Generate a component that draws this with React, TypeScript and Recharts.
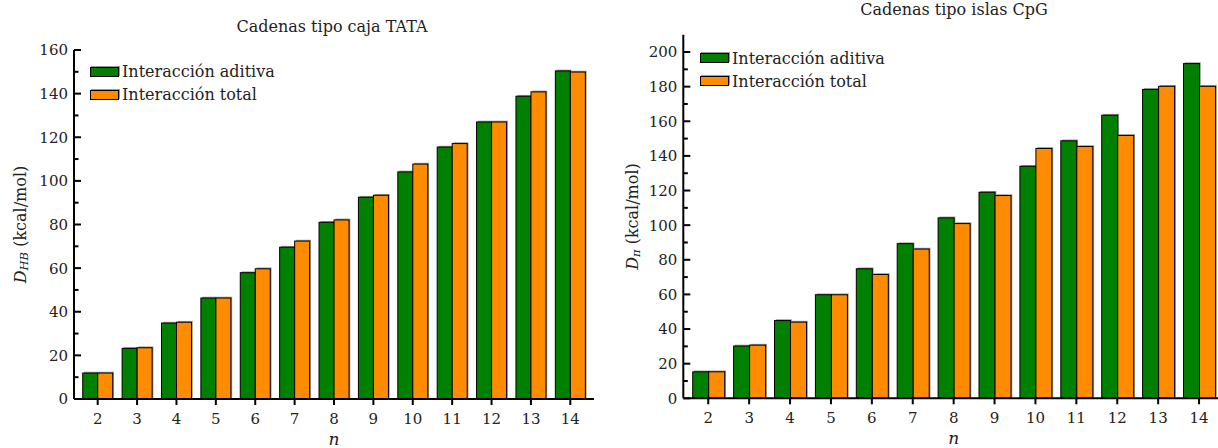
import React from 'react';
import { BarChart, Bar, XAxis, YAxis, Legend } from 'recharts';

// Chain length n
const categories = [2, 3, 4, 5, 6, 7, 8, 9, 10, 11, 12, 13, 14];

// TATA box chains, D_HB (kcal/mol)
const tataAditiva = [11.9, 23.2, 34.8, 46.3, 57.9, 69.6, 81.0, 92.5, 104.1, 115.5, 127.0, 138.8, 150.4];
const tataTotal = [11.9, 23.5, 35.2, 46.3, 59.7, 72.4, 82.1, 93.4, 107.7, 117.1, 127.0, 140.8, 149.9];

// CpG island chains, D_pi (kcal/mol)
const cpgAditiva = [15.3, 30.2, 44.9, 59.8, 74.8, 89.3, 104.2, 119.0, 134.0, 148.7, 163.5, 178.4, 193.3];
const cpgTotal = [15.3, 30.7, 44.0, 59.8, 71.5, 86.2, 100.9, 117.1, 144.3, 145.4, 151.8, 180.2, 180.2];

// Y tick values (majors are labelled, minors only get a short tick)
const tataTicks = [0, 10, 20, 30, 40, 50, 60, 70, 80, 90, 100, 110, 120, 130, 140, 150, 160];
const cpgTicks = [0, 10, 20, 30, 40, 50, 60, 70, 80, 90, 100, 110, 120, 130, 140, 150, 160, 170, 180, 190, 200];

const SERIES_ADITIVA = 'Interacción aditiva';
const SERIES_TOTAL = 'Interacción total';
const GREEN = '#008000';
const ORANGE = '#FF8C00';
const FONT = "'DejaVu Serif', serif";
const TEXT = '#222';

const tataData = categories.map((n, i) => ({ n, aditiva: tataAditiva[i], total: tataTotal[i] }));
const cpgData = categories.map((n, i) => ({ n, aditiva: cpgAditiva[i], total: cpgTotal[i] }));

const Y_TICK_MARGIN = 6;

// Bar with a thin grey drop shadow and black outline
const ShadowBar = (props: any) => {
  const { x, y, width, height, fill } = props;
  if (!height || height <= 0) return null;
  return (
    <g>
      <rect x={x + 1.3} y={y - 1.3} width={width} height={height} fill="#9a9a9a" />
      <rect x={x} y={y} width={width} height={height} fill={fill} stroke="#000" strokeWidth={1} />
    </g>
  );
};

// Y tick: label on the left, tick mark pointing into the plot
const makeYTick = (major: number) => (props: any) => {
  const { x, y, payload } = props;
  const axisX = x + Y_TICK_MARGIN;
  const isMajor = payload.value % major === 0;
  return (
    <g>
      <line x1={axisX} x2={axisX + (isMajor ? 7 : 4.5)} y1={y} y2={y} stroke="#000" strokeWidth={2} />
      {isMajor && (
        <text x={x} y={y} dy="0.36em" textAnchor="end" fontFamily={FONT} fontSize={15} fill={TEXT}>
          {payload.value}
        </text>
      )}
    </g>
  );
};

const XTick = (props: any) => {
  const { x, y, payload } = props;
  return (
    <text x={x} y={y + 17} textAnchor="middle" fontFamily={FONT} fontSize={15} fill={TEXT}>
      {payload.value}
    </text>
  );
};

const makeYLabel = (sub: string, offset: number) => (props: any) => {
  const { viewBox } = props;
  const cx = viewBox.x + offset;
  const cy = viewBox.y + viewBox.height / 2;
  return (
    <text
      x={cx}
      y={cy}
      transform={`rotate(-90 ${cx} ${cy})`}
      textAnchor="middle"
      dominantBaseline="central"
      fontFamily={FONT}
      fontSize={16}
      fill={TEXT}
    >
      <tspan fontStyle="italic">D</tspan>
      <tspan fontStyle="italic" fontSize={11.5} dy={4}>{sub}</tspan>
      <tspan dy={-4}> (kcal/mol)</tspan>
    </text>
  );
};

const XLabel = (props: any) => {
  const { viewBox } = props;
  return (
    <text
      x={viewBox.x + viewBox.width / 2}
      y={viewBox.y + 45.5}
      textAnchor="middle"
      fontFamily={FONT}
      fontStyle="italic"
      fontSize={17}
      fill={TEXT}
    >
      n
    </text>
  );
};

const LegendBox = (props: any) => {
  const { payload } = props;
  return (
    <div style={{ fontFamily: FONT, fontSize: 16, color: TEXT }}>
      {(payload || []).map((entry: any) => (
        <div key={entry.value} style={{ display: 'flex', alignItems: 'center', height: 23, whiteSpace: 'nowrap' }}>
          <span
            style={{
              display: 'inline-block',
              width: 29,
              height: 10,
              boxSizing: 'border-box',
              background: entry.color,
              border: '1.5px solid #000',
              boxShadow: '1px -1px 0 #9a9a9a',
              marginRight: 3,
            }}
          />
          <span>{entry.value}</span>
        </div>
      ))}
    </div>
  );
};

type PanelProps = {
  data: any[];
  ticks: number[];
  domainMax: number;
  width: number;
  margin: { top: number; right: number; bottom: number; left: number };
  pad: number;
  sub: string;
  labelOffset: number;
  legendPos: { left: number; top: number };
};

const Panel = ({ data, ticks, domainMax, width, margin, pad, sub, labelOffset, legendPos }: PanelProps) => (
  <BarChart
    width={width}
    height={448}
    data={data}
    margin={margin}
    barCategoryGap="12%"
    barGap={0}
  >
    <XAxis
      dataKey="n"
      type="category"
      padding={{ left: pad, right: pad }}
      height={30}
      axisLine={{ stroke: '#000', strokeWidth: 2 }}
      tickLine={{ stroke: '#000', strokeWidth: 2 }}
      tickSize={6}
      tickMargin={2}
      tick={<XTick />}
      interval={0}
      label={<XLabel />}
    />
    <XAxis
      xAxisId="frame"
      dataKey="n"
      orientation="top"
      padding={{ left: pad, right: pad }}
      height={0}
      tick={false}
      tickLine={false}
      axisLine={{ stroke: '#000', strokeWidth: 2 }}
    />
    <YAxis
      type="number"
      domain={[0, domainMax]}
      ticks={ticks}
      interval={0}
      width={70}
      axisLine={{ stroke: '#000', strokeWidth: 2 }}
      tickLine={false}
      tickSize={0}
      tickMargin={Y_TICK_MARGIN}
      tick={makeYTick(20)}
      label={makeYLabel(sub, labelOffset)}
    />
    <YAxis
      yAxisId="frame"
      orientation="right"
      type="number"
      domain={[0, domainMax]}
      width={0}
      tick={false}
      tickLine={false}
      axisLine={{ stroke: '#000', strokeWidth: 2 }}
    />
    <Legend
      layout="vertical"
      align="center"
      verticalAlign="middle"
      content={<LegendBox />}
      wrapperStyle={{ left: legendPos.left, top: legendPos.top, width: 'auto' }}
    />
    <Bar dataKey="aditiva" name={SERIES_ADITIVA} fill={GREEN} shape={<ShadowBar />} isAnimationActive={false} />
    <Bar dataKey="total" name={SERIES_TOTAL} fill={ORANGE} shape={<ShadowBar />} isAnimationActive={false} />
  </BarChart>
);

export default function App() {
  return (
    <div
      style={{
        position: 'fixed',
        left: 0,
        top: 0,
        width: 1218,
        height: 448,
        overflow: 'hidden',
        background: '#fff',
      }}
    >
      <div style={{ position: 'absolute', left: 0, top: 0 }}>
        <Panel
          data={tataData}
          ticks={tataTicks}
          domainMax={160}
          width={610}
          margin={{ top: 50, right: 16, bottom: 19, left: 4 }}
          pad={4}
          sub="HB"
          labelOffset={16}
          legendPos={{ left: 90, top: 60 }}
        />
      </div>
      <div style={{ position: 'absolute', left: 610, top: 0 }}>
        <Panel
          data={cpgData}
          ticks={cpgTicks}
          domainMax={210}
          width={640}
          margin={{ top: 34.7, right: 26, bottom: 19.7, left: 3.3 }}
          pad={4.5}
          sub="π"
          labelOffset={18.7}
          legendPos={{ left: 90, top: 46.5 }}
        />
      </div>
      <svg
        width={1218}
        height={448}
        style={{ position: 'absolute', left: 0, top: 0, pointerEvents: 'none' }}
      >
        <text x={332} y={31.7} textAnchor="middle" fontFamily={FONT} fontSize={16} fill={TEXT}>
          Cadenas tipo caja TATA
        </text>
        <text x={954} y={15} textAnchor="middle" fontFamily={FONT} fontSize={16} fill={TEXT}>
          Cadenas tipo islas CpG
        </text>
      </svg>
    </div>
  );
}
